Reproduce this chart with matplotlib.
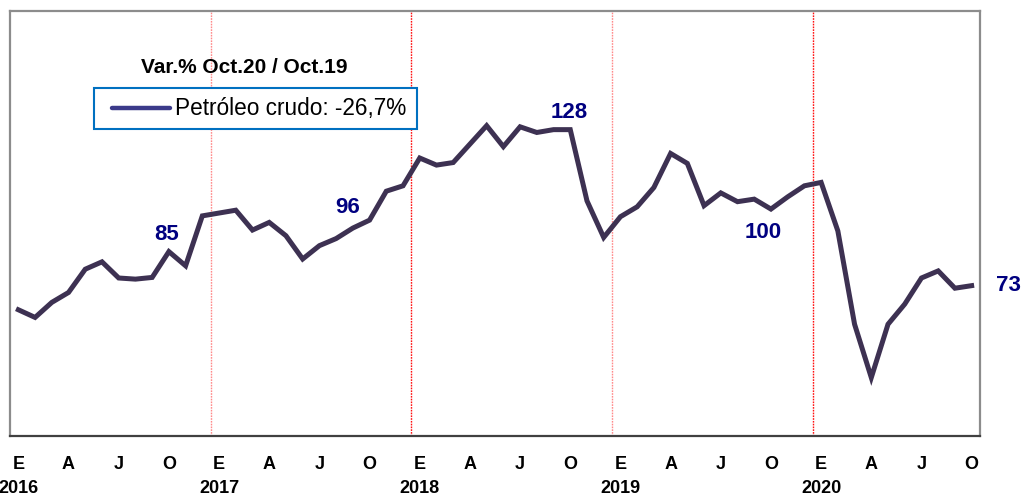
import numpy as np
import matplotlib
matplotlib.use('agg')
import matplotlib.pyplot as plt
from matplotlib.patches import Rectangle

plt.rcParams['font.family'] = ['Liberation Sans', 'DejaVu Sans']

# monthly index, Jan 2016 .. Oct 2020
years = [2016, 2017, 2018, 2019, 2020]
month_letters = ['E', 'A', 'J', 'O']   # Enero, Abril, Julio, Octubre
crude = [
    64.5, 61.8, 67.1, 70.6, 78.8, 81.4, 75.7, 75.3, 75.9, 85.0, 80.0, 97.6,
    98.6, 99.6, 92.6, 95.3, 90.6, 82.4, 87.1, 89.6, 93.3, 96.1, 106.3, 108.2,
    118.0, 115.5, 116.4, 122.9, 129.4, 122.0, 129.0, 127.0, 128.0, 128.0, 102.9, 90.0,
    97.3, 100.8, 107.6, 119.6, 116.1, 101.2, 105.7, 102.6, 103.5, 100.0, 104.3, 108.2,
    109.4, 92.3, 59.4, 40.6, 59.4, 66.5, 75.7, 78.2, 72.1, 73.0,
]
series_label = 'Petróleo crudo: -26,7%'
title = 'Var.% Oct.20 / Oct.19'
# (month index, text) for the value labels
value_labels = [(9, '85'), (21, '96'), (33, '128'), (45, '100'), (57, '73')]

line_color = '#3d3152'
label_color = '#000080'

fig = plt.figure(figsize=(10.21, 4.97), dpi=100)
ax = fig.add_axes([10 / 1021, 1 - 436 / 497, 970 / 1021, 425.5 / 497])

x = np.arange(len(crude))
ax.plot(x, crude, color=line_color, lw=3.6, solid_joinstyle='miter', zorder=5)

# year separators
for i, yr in enumerate(years[1:]):
    col = '#ff8a8a' if i % 2 == 0 else '#ff1010'
    ax.axvline(12 * (i + 1) - 0.5, color=col, lw=1.0, ls=(0, (1.2, 0.8)), zorder=1)

ax.set_xlim(-0.5, 57.5)
ax.set_ylim(20, 170)
ax.set_yticks([])

ticks, tlbls = [], []
for yi, yr in enumerate(years):
    for mi, m in enumerate(month_letters):
        idx = yi * 12 + mi * 3
        if idx >= len(crude):
            break
        ticks.append(idx)
        tlbls.append('%s\n%d' % (m, yr) if mi == 0 else m)
ax.set_xticks(ticks)
ax.set_xticklabels(tlbls, fontsize=13, fontweight='bold', linespacing=1.55)
ax.tick_params(axis='x', length=0, pad=14.5)

for side in ['left', 'top', 'right']:
    ax.spines[side].set_color('#8c8c8c')
    ax.spines[side].set_linewidth(1.6)
ax.spines['bottom'].set_color('#404040')
ax.spines['bottom'].set_linewidth(1.6)

offsets = {'85': (-1.8, 12.5), '96': (-16, 9), '128': (-1, 12.5),
           '100': (-5.5, -16.8), '73': (26.6, 0)}
for idx, txt in value_labels:
    ax.annotate(txt, xy=(idx, crude[idx]), xytext=offsets[txt],
                textcoords='offset points', ha='center', va='center',
                fontsize=16, fontweight='bold', color=label_color,
                annotation_clip=False)

ax.text(0.242, 0.867, title, transform=ax.transAxes, ha='center', va='center',
        fontsize=15, fontweight='bold', color='black')

# legend box, drawn by hand to get the padding of the original
ax.add_patch(Rectangle((0.0866, 0.7215), 0.333, 0.0964, transform=ax.transAxes,
                       facecolor='white', edgecolor='#0070c0', lw=1.5, zorder=6))
ax.plot([0.1052, 0.165], [0.7697, 0.7697], transform=ax.transAxes,
        color='#3b3a8a', lw=3.2, solid_capstyle='round', zorder=7)
ax.text(0.1701, 0.7697, series_label, transform=ax.transAxes, ha='left', va='center',
        fontsize=16.3, color='black', zorder=7)

plt.savefig('out.png', dpi=100)
plt.close()
